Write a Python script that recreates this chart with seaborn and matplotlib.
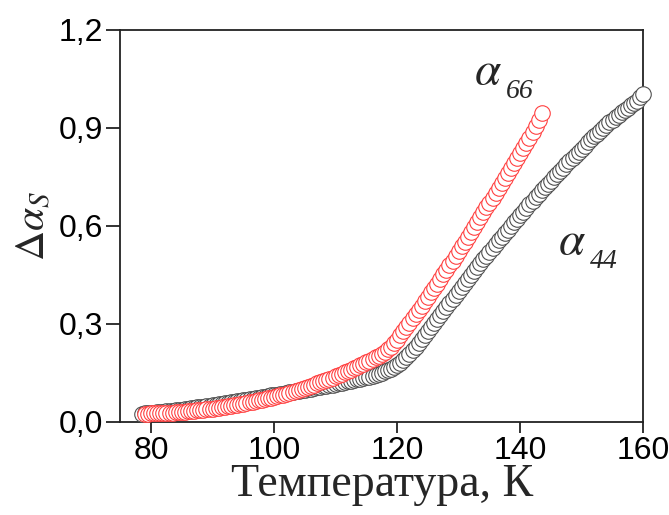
import numpy as np
import pandas as pd
import matplotlib
matplotlib.use("Agg")
import matplotlib.pyplot as plt
import seaborn as sns

# Temperature grids (K) for the two measured curves
t44_start, t44_stop = 78.5, 160.0
t66_start, t66_stop = 79.0, 143.5
t_step = 0.5

# Δα_S for α44 (grey) and α66 (red)
alpha44 = [
    0.025, 0.026, 0.027, 0.028, 0.029, 0.030, 0.031, 0.032, 0.033, 0.034,
    0.035, 0.036, 0.037, 0.038, 0.040, 0.041, 0.042, 0.043, 0.045, 0.046,
    0.047, 0.049, 0.050, 0.052, 0.053, 0.055, 0.056, 0.058, 0.059, 0.061,
    0.062, 0.064, 0.065, 0.067, 0.068, 0.070, 0.071, 0.073, 0.074, 0.076,
    0.077, 0.079, 0.081, 0.082, 0.084, 0.086, 0.087, 0.089, 0.091, 0.092,
    0.094, 0.096, 0.097, 0.099, 0.101, 0.102, 0.104, 0.106, 0.107, 0.109,
    0.111, 0.112, 0.114, 0.116, 0.118, 0.120, 0.122, 0.124, 0.126, 0.128,
    0.130, 0.132, 0.134, 0.137, 0.139, 0.142, 0.145, 0.148, 0.151, 0.155,
    0.159, 0.163, 0.168, 0.174, 0.181, 0.189, 0.198, 0.208, 0.219, 0.230,
    0.242, 0.254, 0.266, 0.278, 0.290, 0.302, 0.315, 0.327, 0.340, 0.352,
    0.364, 0.377, 0.389, 0.401, 0.413, 0.425, 0.437, 0.449, 0.461, 0.473,
    0.485, 0.497, 0.509, 0.520, 0.532, 0.543, 0.555, 0.566, 0.577, 0.588,
    0.599, 0.610, 0.621, 0.632, 0.643, 0.654, 0.665, 0.676, 0.687, 0.697,
    0.708, 0.718, 0.728, 0.738, 0.748, 0.758, 0.768, 0.778, 0.788, 0.797,
    0.807, 0.817, 0.826, 0.836, 0.845, 0.855, 0.864, 0.873, 0.882, 0.891,
    0.899, 0.908, 0.916, 0.924, 0.932, 0.940, 0.947, 0.954, 0.961, 0.968,
    0.975, 0.982, 0.993, 1.003,
]
alpha66 = [
    0.025, 0.025, 0.026, 0.026, 0.027, 0.027, 0.028, 0.028, 0.029, 0.029,
    0.030, 0.030, 0.031, 0.032, 0.033, 0.034, 0.035, 0.036, 0.037, 0.038,
    0.039, 0.040, 0.041, 0.042, 0.043, 0.045, 0.046, 0.048, 0.049, 0.051,
    0.052, 0.054, 0.056, 0.058, 0.060, 0.062, 0.064, 0.066, 0.068, 0.070,
    0.072, 0.074, 0.076, 0.079, 0.081, 0.084, 0.086, 0.089, 0.092, 0.095,
    0.098, 0.101, 0.104, 0.107, 0.111, 0.114, 0.118, 0.121, 0.125, 0.129,
    0.132, 0.136, 0.140, 0.144, 0.148, 0.152, 0.156, 0.160, 0.165, 0.169,
    0.174, 0.178, 0.183, 0.188, 0.193, 0.198, 0.203, 0.209, 0.215, 0.222,
    0.230, 0.240, 0.252, 0.265, 0.278, 0.291, 0.304, 0.317, 0.330, 0.343,
    0.356, 0.369, 0.382, 0.396, 0.409, 0.423, 0.437, 0.451, 0.465, 0.479,
    0.493, 0.508, 0.522, 0.537, 0.551, 0.566, 0.581, 0.596, 0.611, 0.626,
    0.641, 0.656, 0.671, 0.686, 0.701, 0.716, 0.731, 0.746, 0.761, 0.776,
    0.791, 0.806, 0.821, 0.837, 0.852, 0.868, 0.886, 0.905, 0.924, 0.944,
]

x_ticks = [80, 100, 120, 140, 160]
y_ticks = [0.0, 0.3, 0.6, 0.9, 1.2]
y_tick_labels = ["0,0", "0,3", "0,6", "0,9", "1,2"]

t44 = np.arange(t44_start, t44_stop + t_step / 2, t_step)
t66 = np.arange(t66_start, t66_stop + t_step / 2, t_step)
df44 = pd.DataFrame({"T": t44, "da": alpha44})
df66 = pd.DataFrame({"T": t66, "da": alpha66})

sns.set_style("ticks")
plt.rcParams["font.family"] = ["Liberation Sans Narrow", "Liberation Sans", "DejaVu Sans"]
plt.rcParams["mathtext.fontset"] = "stix"

fig = plt.figure(figsize=(6.69, 5.15), dpi=100)
ax = fig.add_axes([0.1798, 0.1806, 0.9616 - 0.1798, 0.9427 - 0.1806])

marker_size = 125
sns.scatterplot(data=df44, x="T", y="da", ax=ax, marker="o", s=marker_size,
                facecolor="white", edgecolor="#505050", linewidth=0.8,
                clip_on=False, zorder=3, legend=False)
sns.scatterplot(data=df66, x="T", y="da", ax=ax, marker="o", s=marker_size,
                facecolor="white", edgecolor="#ff4040", linewidth=0.8,
                clip_on=False, zorder=4, legend=False)

ax.set_xlim(75, 160)
ax.set_ylim(0, 1.2)
ax.set_xticks(x_ticks)
ax.set_xticklabels([str(v) for v in x_ticks])
ax.set_yticks(y_ticks)
ax.set_yticklabels(y_tick_labels)

for side in ["left", "right", "top", "bottom"]:
    ax.spines[side].set_visible(True)
    ax.spines[side].set_color("#222222")
    ax.spines[side].set_linewidth(1.3)

ax.tick_params(axis="both", direction="out", colors="#222222", width=1.3,
               labelsize=23, labelcolor="black", pad=2)
ax.tick_params(axis="y", length=10)
ax.tick_params(axis="x", length=8)

ax.set_xlabel("Температура, К", family=["Liberation Serif", "DejaVu Serif"],
              fontsize=33, labelpad=-2)
ax.set_ylabel(r"$\Delta\alpha_{S}$", fontsize=30, labelpad=4)

# Curve labels: italic alpha with a dropped italic subscript
ax.text(134.8, 1.07, r"$\alpha$", fontsize=34, ha="center", va="center")
ax.text(139.9, 1.01, "66", fontsize=20, ha="center", va="center",
        style="italic", family=["Liberation Serif", "DejaVu Serif"])
ax.text(148.4, 0.55, r"$\alpha$", fontsize=34, ha="center", va="center")
ax.text(153.5, 0.49, "44", fontsize=20, ha="center", va="center",
        style="italic", family=["Liberation Serif", "DejaVu Serif"])

fig.savefig("out.png", dpi=100, facecolor="white")
